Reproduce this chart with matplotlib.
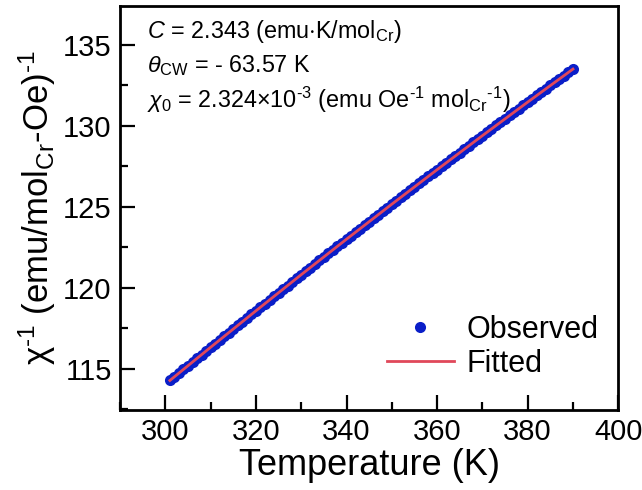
import numpy as np
import matplotlib
matplotlib.use('Agg')
import matplotlib.pyplot as plt
from matplotlib.ticker import MultipleLocator

plt.rcParams['font.family'] = ['Liberation Sans', 'DejaVu Sans']
plt.rcParams['mathtext.fontset'] = 'custom'
plt.rcParams['mathtext.rm'] = 'Liberation Sans'
plt.rcParams['mathtext.it'] = 'Liberation Sans:italic'
plt.rcParams['mathtext.bf'] = 'Liberation Sans:bold'

# observed inverse susceptibility, 1 K steps
T_obs = np.arange(301, 391)
inv_chi_obs = [
    114.28, 114.51, 114.73, 114.96, 115.19, 115.42, 115.65, 115.88, 116.10, 116.33,
    116.56, 116.78, 117.01, 117.24, 117.46, 117.69, 117.91, 118.14, 118.36, 118.58,
    118.81, 119.03, 119.25, 119.48, 119.70, 119.92, 120.14, 120.36, 120.59, 120.81,
    121.03, 121.25, 121.47, 121.69, 121.91, 122.13, 122.34, 122.56, 122.78, 123.00,
    123.22, 123.43, 123.65, 123.87, 124.08, 124.30, 124.51, 124.73, 124.95, 125.16,
    125.37, 125.59, 125.80, 126.02, 126.23, 126.44, 126.66, 126.87, 127.08, 127.29,
    127.50, 127.71, 127.93, 128.14, 128.35, 128.56, 128.77, 128.97, 129.18, 129.39,
    129.60, 129.81, 130.02, 130.22, 130.43, 130.64, 130.84, 131.05, 131.26, 131.46,
    131.67, 131.87, 132.08, 132.28, 132.49, 132.69, 132.89, 133.10, 133.30, 133.50,
]

# Curie-Weiss fit
T_fit = [301, 310, 320, 330, 340, 350, 360, 370, 380, 390]
inv_chi_fit = [114.28, 116.33, 118.58, 120.81, 123.00, 125.16, 127.29, 129.39, 131.46, 133.50]

HY = '\u2010'  # short hyphen for the exponents, like the original

fig = plt.figure(figsize=(6.42, 4.90), dpi=100)
ax = fig.add_axes([0.187, 0.163, 0.776, 0.825])

ax.plot(T_obs, inv_chi_obs, 'o', c='#0a1ec8', ms=8, mec='none', label='Observed')
ax.plot(T_fit, inv_chi_fit, '-', c='#e0485a', lw=2, label='Fitted')

ax.set_xlim(290, 400)
ax.set_ylim(112.45, 137.4)
ax.xaxis.set_major_locator(MultipleLocator(20))
ax.xaxis.set_minor_locator(MultipleLocator(10))
ax.yaxis.set_major_locator(MultipleLocator(5))
ax.yaxis.set_minor_locator(MultipleLocator(2.5))
ax.tick_params(which='both', direction='in', width=1.6, labelsize=21, pad=6)
ax.tick_params(which='major', length=11)
ax.tick_params(which='minor', length=6)
for s in ax.spines.values():
    s.set_linewidth(2)

ax.set_xlabel('Temperature (K)', fontsize=26, labelpad=1)
ax.set_ylabel('χ$^{' + HY + '1}$ (emu/mol$_{\\rm Cr}$-Oe)$^{' + HY + '1}$', fontsize=25, labelpad=4)

ax.text(0.054, 0.921, r'$C$ = 2.343 (emu$\cdot$K/mol$_{\rm Cr}$)', transform=ax.transAxes,
        fontsize=16.8, va='baseline')
ax.text(0.054, 0.837, r'$\theta_{\rm CW}$ = - 63.57 K', transform=ax.transAxes,
        fontsize=16.8, va='baseline')
ax.text(0.054, 0.748, '$\\chi_0$ = 2.324×10$^{' + HY + '3}$ (emu Oe$^{' + HY + '1}$ mol$_{\\rm Cr}$$^{' + HY + '1}$)',
        transform=ax.transAxes, fontsize=16.8, va='baseline')

ax.legend(loc='lower right', frameon=False, fontsize=22, handlelength=2.2,
          handletextpad=0.4, labelspacing=0.12, bbox_to_anchor=(1.015, 0.01))

fig.savefig('out.png', dpi=100)
